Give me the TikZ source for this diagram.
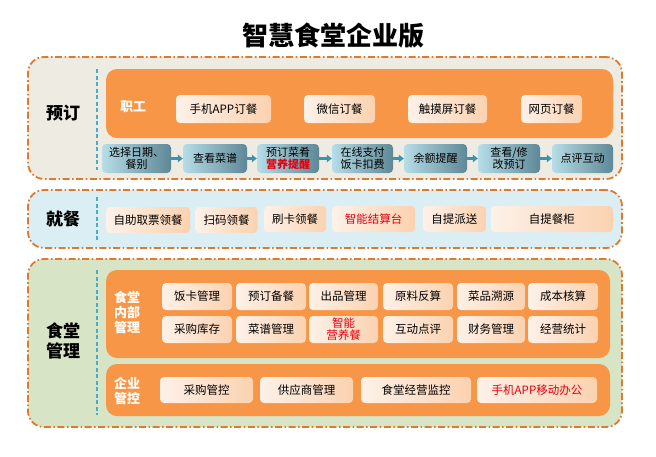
\documentclass[tikz,border=0pt]{standalone}
\usepackage{fontspec}
\setmainfont{Noto Sans CJK SC}
\usetikzlibrary{arrows.meta}
\definecolor{secborder}{HTML}{DC7A2E}
\definecolor{secA}{HTML}{EEEBE2}
\definecolor{secB}{HTML}{DBEEF4}
\definecolor{secC}{HTML}{D8E4C6}
\definecolor{orgfill}{HTML}{F79646}
\definecolor{btnL}{HTML}{FDF1E8}
\definecolor{btnR}{HTML}{FBD2B0}
\definecolor{flowL}{HTML}{B6DDE8}
\definecolor{flowR}{HTML}{5E8896}
\definecolor{arrowc}{HTML}{3E93AB}
\definecolor{divc}{HTML}{4BACC6}
\definecolor{redtxt}{HTML}{E3000F}
\begin{document}
\begin{tikzpicture}[x=1pt,y=-1pt,
  section/.style={draw=secborder, line width=1.8pt, dash pattern=on 7pt off 2.5pt on 1.6pt off 2.5pt, rounded corners=16pt, inner sep=0pt},
  orangebox/.style={fill=orgfill, rounded corners=11pt, inner sep=0pt},
  btn/.style={rounded corners=4pt, left color=btnL, right color=btnR, minimum height=27pt, inner sep=0pt, font=\fontsize{11.5}{13.5}\selectfont, align=center},
  flowbox/.style={rounded corners=4pt, left color=flowL, right color=flowR, minimum height=29pt, inner sep=0pt, font=\fontsize{11}{12.5}\selectfont, align=center},
  farrow/.style={draw=arrowc, line width=2.6pt, -{Triangle[length=5pt,width=7.5pt]}},
  divider/.style={draw=divc, line width=1.5pt, dash pattern=on 4pt off 2.5pt},
  seclabel/.style={font=\fontsize{17}{20}\bfseries\selectfont, align=center},
  innerlabel/.style={text=white, font=\fontsize{13}{15}\bfseries\selectfont, align=center}
]
\useasboundingbox (0,0) rectangle (656,456);

% title
\node[font=\fontsize{26}{30}\bfseries\selectfont] (title) at (333,36) {智慧食堂企业版};

% sections
\node[section, fill=secA, minimum width=594pt, minimum height=122pt] (s1) at (325,118) {};
\node[section, fill=secB, minimum width=594pt, minimum height=58pt] (s2) at (325,219) {};
\node[section, fill=secC, minimum width=594pt, minimum height=168pt] (s3) at (325,343) {};

\node[seclabel] (l1) at (63,113) {预订};
\node[seclabel] (l2) at (63,219) {就餐};
\node[seclabel] (l3) at (63,341) {食堂\\管理};

\coordinate (d1a) at (97,69);  \coordinate (d1b) at (97,170);
\coordinate (d2a) at (97,197); \coordinate (d2b) at (97,242);
\coordinate (d3a) at (97,270); \coordinate (d3b) at (97,415);
\draw[divider] (d1a) -- (d1b);
\draw[divider] (d2a) -- (d2b);
\draw[divider] (d3a) -- (d3b);

% --- 预订 ---
\node[orangebox, minimum width=507pt, minimum height=69pt] (o1) at (359.5,103.5) {};
\node[innerlabel] (zg) at (133,107) {职工};
\node[btn, minimum width=95pt, minimum height=28pt] (b1) at (223.5,109) {手机APP订餐};
\node[btn, minimum width=71pt, minimum height=28pt] (b2) at (339.5,109) {微信订餐};
\node[btn, minimum width=79pt, minimum height=28pt] (b3) at (447.5,109) {触摸屏订餐};
\node[btn, minimum width=61pt, minimum height=28pt] (b4) at (551.5,109) {网页订餐};

\node[flowbox, minimum width=69pt] (f1) at (136.5,158.5) {选择日期、\\餐别};
\node[flowbox, minimum width=64pt] (f2) at (215,158.5) {查看菜谱};
\node[flowbox, minimum width=62pt] (f3) at (288,158.5) {预订菜肴\\\textcolor{redtxt}{\bfseries 营养提醒}};
\node[flowbox, minimum width=61pt] (f4) at (362.5,158.5) {在线支付\\饭卡扣费};
\node[flowbox, minimum width=63pt] (f5) at (435.5,158.5) {余额提醒};
\node[flowbox, minimum width=62pt] (f6) at (509,158.5) {查看/修\\改预订};
\node[flowbox, minimum width=61pt] (f7) at (582.5,158.5) {点评互动};
\draw[farrow] (f1.east) -- (f2.west);
\draw[farrow] (f2.east) -- (f3.west);
\draw[farrow] (f3.east) -- (f4.west);
\draw[farrow] (f4.east) -- (f5.west);
\draw[farrow] (f5.east) -- (f6.west);
\draw[farrow] (f6.east) -- (f7.west);

% --- 就餐 ---
\node[btn, minimum width=84pt, minimum height=26pt] (j1) at (148,220) {自助取票领餐};
\node[btn, minimum width=62pt, minimum height=26pt] (j2) at (226.5,220) {扫码领餐};
\node[btn, minimum width=62pt, minimum height=26pt] (j3) at (295.2,219) {刷卡领餐};
\node[btn, minimum width=83pt, minimum height=26pt, text=redtxt] (j4) at (373.6,219) {智能结算台};
\node[btn, minimum width=63pt, minimum height=26pt] (j5) at (454.4,219) {自提派送};
\node[btn, minimum width=122pt, minimum height=26pt] (j6) at (551.8,219) {自提餐柜};

% --- 食堂管理 ---
\node[orangebox, minimum width=504pt, minimum height=88pt] (o2) at (358,314) {};
\node[innerlabel] (nb) at (127,312) {食堂\\内部\\管理};
\node[btn, minimum width=70pt] (g11) at (197,296.5) {饭卡管理};
\node[btn, minimum width=70pt] (g12) at (271,296.5) {预订备餐};
\node[btn, minimum width=69pt] (g13) at (343.5,296.5) {出品管理};
\node[btn, minimum width=70pt] (g14) at (418,296.5) {原料反算};
\node[btn, minimum width=68pt] (g15) at (491,296.5) {菜品溯源};
\node[btn, minimum width=70pt] (g16) at (563,296.5) {成本核算};
\node[btn, minimum width=70pt] (g21) at (197,329.5) {采购库存};
\node[btn, minimum width=70pt] (g22) at (271,329.5) {菜谱管理};
\node[btn, minimum width=69pt, text=redtxt, font=\fontsize{11.5}{12}\selectfont] (g23) at (343.5,329.5) {智能\\营养餐};
\node[btn, minimum width=70pt] (g24) at (418,329.5) {互动点评};
\node[btn, minimum width=68pt] (g25) at (491,329.5) {财务管理};
\node[btn, minimum width=70pt] (g26) at (563,329.5) {经营统计};

\node[orangebox, minimum width=504pt, minimum height=52pt] (o3) at (358,390) {};
\node[innerlabel] (qy) at (127,391) {企业\\管控};
\node[btn, minimum width=93pt, minimum height=26pt] (e1) at (206.5,390) {采购管控};
\node[btn, minimum width=93pt, minimum height=26pt] (e2) at (306.5,390) {供应商管理};
\node[btn, minimum width=110pt, minimum height=26pt] (e3) at (416,390) {食堂经营监控};
\node[btn, minimum width=120pt, minimum height=26pt, text=redtxt] (e4) at (537,390) {手机APP移动办公};
\end{tikzpicture}
\end{document}
